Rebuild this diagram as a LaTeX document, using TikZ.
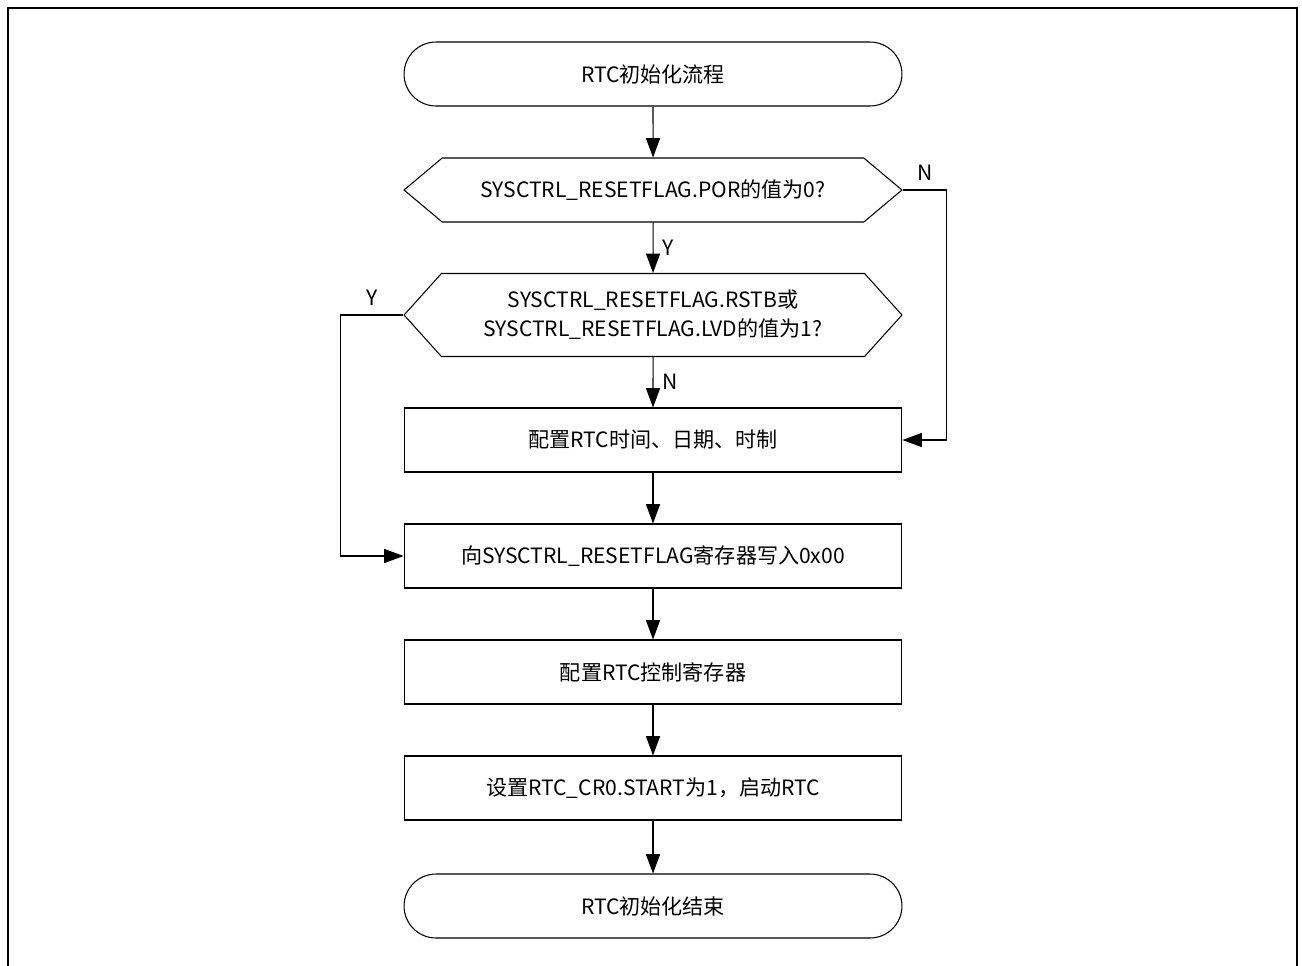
\documentclass[tikz,border=0pt]{standalone}
\usepackage{fontspec}
\setmainfont{Noto Sans CJK SC}
\usetikzlibrary{positioning,calc,arrows.meta,shapes.symbols}

\tikzset{
	term/.style={draw, rounded corners=0.64cm, minimum width=9.96cm, minimum height=1.28cm},
	proc/.style={draw, minimum width=9.96cm, minimum height=1.28cm},
	decide/.style={draw, signal, signal to=west and east, minimum width=9.96cm, align=center},
	flow/.style={draw, -{Triangle[length=11pt,width=8pt]}}
}

\begin{document}
\begin{tikzpicture}[x=0.02cm, y=-0.02cm, line width=0.6pt, font=\fontsize{12}{16.5}\selectfont]
		\useasboundingbox (0,0) rectangle (1302,965);
		\draw[line width=1pt] (8,1000) -- (8,8) -- (1297,8) -- (1297,1000);
		
		\node[term] (start) at (653,74) {RTC初始化流程};
		\node[decide, minimum height=1.28cm, signal pointer angle=80] (por) at (653,190) {SYSCTRL\_RESETFLAG.POR的值为0?};
		\node[decide, minimum height=1.66cm, signal pointer angle=96] (rst) at (653,315) {SYSCTRL\_RESETFLAG.RSTB或\\SYSCTRL\_RESETFLAG.LVD的值为1?};
		\node[proc] (cfg) at (653,440) {配置RTC时间、日期、时制};
		\node[proc] (clr) at (653,556) {向SYSCTRL\_RESETFLAG寄存器写入0x00};
		\node[proc] (ctl) at (653,672) {配置RTC控制寄存器};
		\node[proc] (run) at (653,788) {设置RTC\_CR0.START为1，启动RTC};
		\node[term] (stop) at (653,906) {RTC初始化结束};
		
		\draw[flow] (start) -- (por);
		\draw[flow] (por) -- node[right=2pt] {Y} (rst);
		\draw[flow] (rst) -- node[right=2pt] {N} (cfg);
		\draw[flow] (cfg) -- (clr);
		\draw[flow] (clr) -- (ctl);
		\draw[flow] (ctl) -- (run);
		\draw[flow] (run) -- (stop);
		\draw[flow] (por.east) -- node[above=2pt] {N} ++(44,0) |- (cfg.east);
		\draw[flow] (rst.west) -- node[above=2pt] {Y} ++(-63,0) |- (clr.west);
	\end{tikzpicture}
\end{document}
